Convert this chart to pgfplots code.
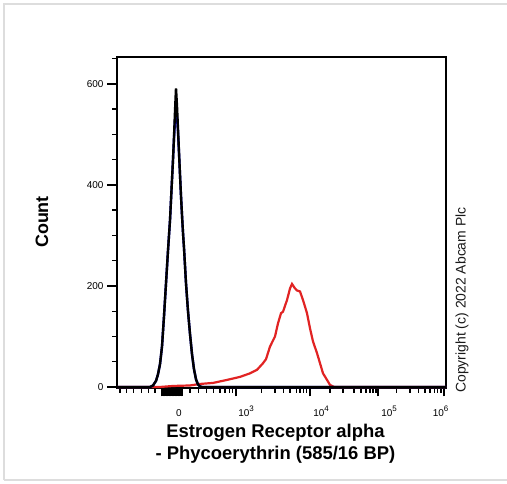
\documentclass[border=0pt]{standalone}
\usepackage{pgfplots}
\pgfplotsset{compat=1.18}
\usepackage{fontspec}
\setmainfont{Liberation Sans}
\definecolor{frame}{RGB}{221,221,221}
\definecolor{redc}{RGB}{225,35,35}
\definecolor{bluec}{RGB}{20,20,200}
\newcommand{\tenp}[1]{10\raisebox{5bp}{\fontsize{8}{8}\selectfont #1}}
\begin{document}
\begin{tikzpicture}[x=1bp,y=1bp]
\useasboundingbox (0,0) rectangle (507,484);
\draw[frame,line width=2.5bp] (4,4) -- (4,480) -- (507,480);
\draw[frame,line width=2.5bp] (4,4) -- (507,4);
\begin{axis}[
  at={(117bp,96bp)}, anchor=south west,
  width=329bp, height=331bp, scale only axis,
  xmin=117, xmax=446, ymin=-2, ymax=653,
  axis line style={line width=1.5bp},
  tick align=outside, xtick pos=bottom, ytick pos=left,
  major tick length=10bp, minor tick length=5bp,
  every tick/.style={black},
  major tick style={line width=2bp},
  minor tick style={line width=1.3bp},
  ytick={0,200,400,600}, yticklabels={0,200,400,600},
  minor ytick={50,100,150,250,300,350,450,500,550,650},
  xtick={179,246,321,389,440.5},
  xticklabels={0,\tenp{3},\tenp{4},\tenp{5},\tenp{6}},
  major x tick style={draw=none},
  minor xtick={120,126.7,133.3,141.7,148.3,155,190,198.3,206.7,213.3,220,225,229.3,232.7,261.7,275,283.3,290,296.7,300,303.3,306.7,330,343,354,361,366,370,373,376,396.7,410,418.3,425,430,434.3,437.7,441},
  extra x ticks={236,310,378,444,162,163.5,165,166.5,168,169.5,171,172.5,174,175.5,177,178.5,180,181.5},
  extra x tick labels={},
  extra x tick style={major tick length=8.5bp, major x tick style={draw=black, line width=2bp}},
  ticklabel style={font=\fontsize{10}{12}\selectfont},
  xticklabel style={text height=8bp, text depth=0bp, yshift=-6.5bp},
  clip=false,
]
\addplot[redc, line width=2.2bp] coordinates {
(117,0) (160,0) (173,2) (190,3) (200,6) (213,8) (227,14) (240,20) (250,27)
(257,34) (263,47) (266,55) (270,80) (275,100) (278,126) (281,146) (283,149)
(287,172) (290,195) (292,204) (295,195) (297,191) (300,189) (303,172)
(307,146) (310,116) (313,90) (317,67) (320,47) (323,27) (327,14) (330,4)
(334,0) (446,0)};
\addplot[bluec, line width=2.4bp] coordinates {
(117,0) (150,0) (153,3) (156,12) (158,25) (160,45) (162,80) (164,140) (166,205)
(168,270) (170,330) (171,370) (172,410) (173,450) (174,492) (175,528) (176,542)
(177,536) (178,505) (179,462) (180,420) (181,378) (182,340) (183,305) (184,275)
(186,205) (188,150) (190,105) (192,65) (194,35) (196,15) (198,5) (200,1) (202,0) (446,0)};
\addplot[black, line width=2.4bp] coordinates {
(117,0) (150,0) (153,3) (156,12) (158,25) (160,45) (162,80) (164,140) (166,205)
(168,270) (170,330) (171,370) (172,410) (173,450) (174,495) (175,545) (176,591)
(177,555) (178,510) (179,465) (180,420) (181,378) (182,340) (183,305) (184,275)
(186,205) (188,150) (190,105) (192,65) (194,35) (196,15) (198,5) (200,1) (202,0) (446,0)};
\end{axis}
\node[rotate=90, font=\fontsize{18}{21}\bfseries\selectfont] at (42,262) {Count};
\node[align=center, font=\fontsize{18.5}{22}\bfseries\selectfont] at (275.5,40)
  {Estrogen Receptor alpha\\- Phycoerythrin (585/16 BP)};
\node[rotate=90, font=\fontsize{14}{16}\selectfont, text=black!90] at (462,184)
  {Copyright (c) 2022 Abcam Plc};
\end{tikzpicture}
\end{document}
